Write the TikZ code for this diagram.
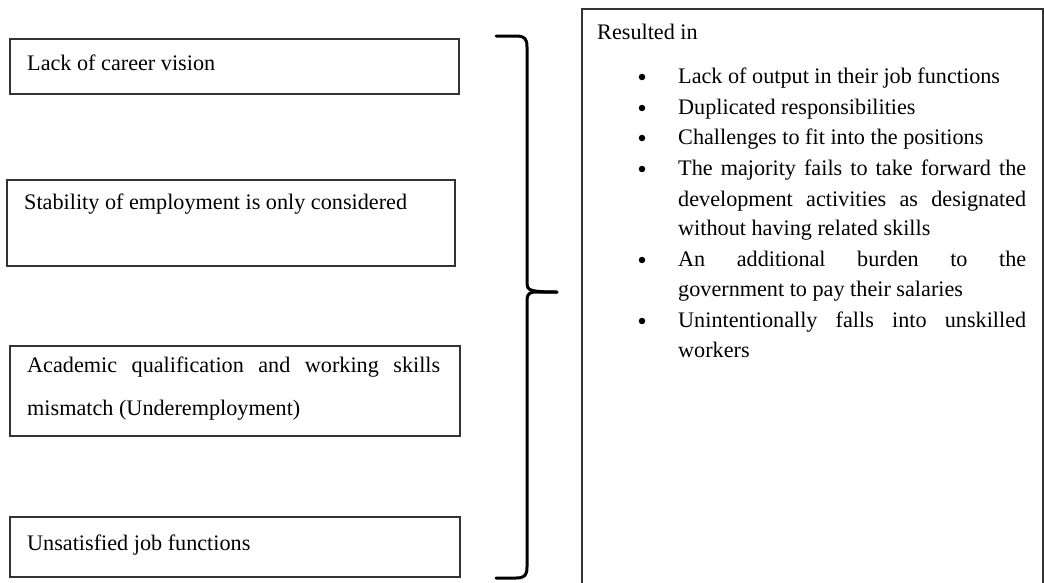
\documentclass[tikz,border=0pt]{standalone}
\usepackage{fontspec}
\setmainfont{Liberation Serif}
\begin{document}
\begin{tikzpicture}[x=1pt,y=-1pt,
  box/.style={draw=black!80,line width=1.6pt,inner sep=0pt},
  txt/.style={anchor=mid west,inner sep=0pt,font=\fontsize{22.2}{26}\selectfont},
  bul/.style={circle,fill=black,inner sep=0pt,minimum size=6.5pt},
  bracestroke/.style={line width=3pt,line cap=round,line join=round}]
\useasboundingbox[fill=white] (0,0) rectangle (1044,582);
% left boxes
\node[box,minimum width=449,minimum height=55] (b1) at (234.5,66.5) {};
\node[box,minimum width=448,minimum height=86] (b2) at (231,223) {};
\node[box,minimum width=450,minimum height=90] (b3) at (235,391) {};
\node[box,minimum width=450,minimum height=60] (b4) at (235,547) {};
% right box
\node[box,minimum width=461,minimum height=600] (r) at (812.5,309) {};
% left texts
\node[txt] (t1) at (27,68) {Lack of career vision};
\node[txt] (t2) at (24,207) {Stability of employment is only considered};
\node[txt] (t3a) at (27,370) {\makebox[413pt][s]{Academic qualification and working skills}};
\node[txt] (t3b) at (27,413) {mismatch (Underemployment)};
\node[txt] (t4) at (27,548) {Unsatisfied job functions};
% brace
\coordinate (bt) at (496,36);
\coordinate (bb) at (496,578);
\coordinate (bm) at (557,292);
\draw[bracestroke] (bt) -- (516,36) .. controls (525,36) and (527,39) .. (527,47)
  -- (527,284) .. controls (527,290) and (530,292) .. (bm);
\draw[bracestroke] (bm) -- (535,292) .. controls (530,292) and (527,294) .. (527,300)
  -- (527,567) .. controls (527,575) and (525,578) .. (516,578) -- (bb);
% right texts
\node[txt] (res) at (597,37) {Resulted in};
\node[bul] (d1) at (642,77) {};
\node[txt] (l1) at (678,81) {Lack of output in their job functions};
\node[bul] (d2) at (642,108) {};
\node[txt] (l2) at (678,112) {Duplicated responsibilities};
\node[bul] (d3) at (642,138) {};
\node[txt] (l3) at (678,142) {Challenges to fit into the positions};
\node[bul] (d4) at (642,169) {};
\node[txt] (l4a) at (678,173) {\makebox[348pt][s]{The majority fails to take forward the}};
\node[txt] (l4b) at (678,204) {\makebox[348pt][s]{development activities as designated}};
\node[txt] (l4c) at (678,233) {without having related skills};
\node[bul] (d5) at (642,260) {};
\node[txt] (l5a) at (678,264) {\makebox[348pt][s]{An additional burden to the}};
\node[txt] (l5b) at (678,294) {government to pay their salaries};
\node[bul] (d6) at (642,321) {};
\node[txt] (l6a) at (678,325) {\makebox[348pt][s]{Unintentionally falls into unskilled}};
\node[txt] (l6b) at (678,355) {workers};
\end{tikzpicture}
\end{document}
